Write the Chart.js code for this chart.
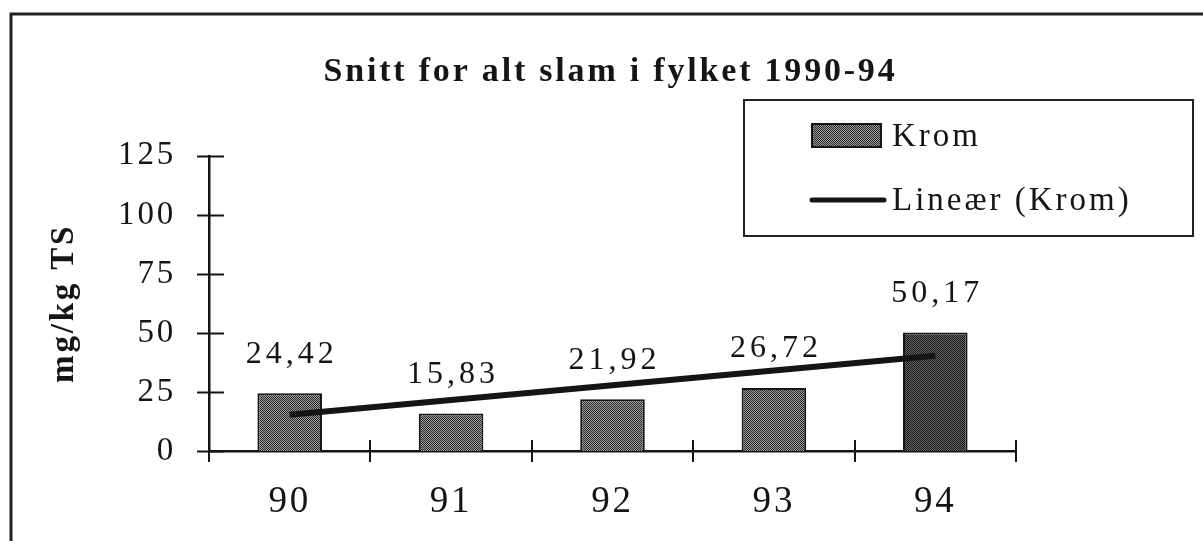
<!DOCTYPE html>
<html><head><meta charset="utf-8">
<style>html,body{margin:0;padding:0;background:#fff;overflow:hidden}canvas{display:block}</style>
<script src="https://cdn.jsdelivr.net/npm/chart.js@4"></script>
</head><body>
<canvas id="c" width="1203" height="541"></canvas>
<script>
const categories = ['90', '91', '92', '93', '94'];
const kromValues = [24.42, 15.83, 21.92, 26.72, 50.17];
const trendValues = [15.33, null, null, null, 40.29];
const seriesLabels = ['Krom', 'Lineær (Krom)'];
const yTickValues = [0, 25, 50, 75, 100, 125];
const chartTitle = 'Snitt for alt slam i fylket 1990-94';
const yTitle = 'mg/kg TS';

const FONT = "'Liberation Serif', 'Times New Roman', serif";
const INK = '#151515';

function makePattern(light, dark) {
  const p = document.createElement('canvas');
  p.width = 2; p.height = 2;
  const g = p.getContext('2d');
  g.fillStyle = light; g.fillRect(0, 0, 2, 2);
  g.fillStyle = dark; g.fillRect(0, 0, 1, 1); g.fillRect(1, 1, 1, 1);
  return g.createPattern(p, 'repeat');
}
const patLight = makePattern('#a0a0a0', '#262626');
const patDark = makePattern('#626262', '#1c1c1c');

const spacing = {
  id: 'spacing',
  beforeUpdate(c) { c.ctx.letterSpacing = '2.8px'; },
  beforeLayout(c) { c.ctx.letterSpacing = '2.8px'; },
  beforeDraw(c) { c.ctx.letterSpacing = '2.8px'; }
};

const frame = {
  id: 'frame',
  beforeDraw(c) {
    const ctx = c.ctx;
    ctx.save();
    ctx.strokeStyle = '#222';
    ctx.lineWidth = 3;
    ctx.beginPath();
    ctx.moveTo(1203, 14); ctx.lineTo(11, 14); ctx.lineTo(11, 541);
    ctx.stroke();
    ctx.restore();
  }
};

const crossTicks = {
  id: 'crossTicks',
  afterDraw(c) {
    const ctx = c.ctx, x = c.scales.x, y = c.scales.y, a = c.chartArea;
    ctx.save();
    ctx.strokeStyle = INK;
    ctx.lineWidth = 2;
    ctx.beginPath();
    yTickValues.forEach(v => {
      const py = Math.round(y.getPixelForValue(v)) + 0.5;
      ctx.moveTo(a.left - 12, py); ctx.lineTo(a.left + 15, py);
    });
    for (let i = 0; i <= categories.length; i++) {
      const px = Math.round(x.getPixelForValue(i - 0.5));
      ctx.moveTo(px, a.bottom - 11); ctx.lineTo(px, a.bottom + 11);
    }
    ctx.stroke();
    ctx.restore();
  }
};

function barIndex(c) { return c.data.datasets.findIndex(d => d.type === 'bar'); }
function lineIndex(c) { return c.data.datasets.findIndex(d => d.type === 'line'); }

const valueLabels = {
  id: 'valueLabels',
  afterDatasetsDraw(c) {
    const ctx = c.ctx;
    const bi = barIndex(c);
    const meta = c.getDatasetMeta(bi);
    const vals = c.data.datasets[bi].data;
    ctx.save();
    ctx.letterSpacing = '4px';
    ctx.font = '32px ' + FONT;
    ctx.fillStyle = INK;
    ctx.textAlign = 'center';
    ctx.textBaseline = 'middle';
    meta.data.forEach((bar, i) => {
      const txt = vals[i].toFixed(2).replace('.', ',');
      ctx.fillText(txt, bar.x + 2, bar.y - 39);
    });
    ctx.restore();
  }
};

const boxLegend = {
  id: 'boxLegend',
  afterDraw(c) {
    const ctx = c.ctx;
    const ds = c.data.datasets;
    const bar = ds[barIndex(c)], line = ds[lineIndex(c)];
    ctx.save();
    ctx.fillStyle = '#fff';
    ctx.fillRect(744, 100, 449, 136);
    ctx.strokeStyle = '#222';
    ctx.lineWidth = 2;
    ctx.strokeRect(744, 100, 449, 136);
    ctx.fillStyle = patLight;
    ctx.fillRect(812, 124, 69, 23);
    ctx.strokeStyle = INK;
    ctx.lineWidth = 2;
    ctx.strokeRect(812, 124, 69, 23);
    ctx.strokeStyle = INK;
    ctx.lineWidth = 5;
    ctx.lineCap = 'round';
    ctx.beginPath(); ctx.moveTo(812, 200); ctx.lineTo(884, 200); ctx.stroke();
    ctx.letterSpacing = '3px';
    ctx.font = '33px ' + FONT;
    ctx.fillStyle = INK;
    ctx.textAlign = 'left';
    ctx.textBaseline = 'middle';
    ctx.fillText(bar.label, 892, 137);
    ctx.fillText(line.label, 892, 201);
    ctx.restore();
  }
};

new Chart(document.getElementById('c'), {
  data: {
    labels: categories,
    datasets: [
      {
        type: 'line',
        label: seriesLabels[1],
        data: trendValues,
        borderColor: INK,
        borderWidth: 6,
        pointRadius: 0,
        spanGaps: true,
        fill: false,
        order: 0
      },
      {
        type: 'bar',
        label: seriesLabels[0],
        data: kromValues,
        backgroundColor: (ctx) => ctx.dataIndex === 4 ? patDark : patLight,
        borderColor: INK,
        borderWidth: 2,
        barPercentage: 0.40,
        categoryPercentage: 1.0,
        order: 1
      }
    ]
  },
  options: {
    responsive: false,
    animation: false,
    layout: { padding: { left: 18, right: 0, top: 0, bottom: 0 } },
    plugins: {
      legend: { display: false },
      tooltip: { enabled: false },
      title: {
        display: true,
        text: chartTitle,
        color: INK,
        font: { family: FONT, size: 34, weight: 'bold' },
        padding: { top: 52, bottom: 63 }
      }
    },
    scales: {
      x: {
        offset: true,
        grid: { display: false, drawTicks: false },
        border: { display: true, color: INK, width: 2.5 },
        ticks: { color: INK, font: { family: FONT, size: 37 }, padding: 29 },
        afterFit(s) { s.height = 90; }
      },
      y: {
        min: 0, max: 125,
        afterBuildTicks(s) { s.ticks = yTickValues.map(v => ({ value: v })); },
        grid: { display: false, drawTicks: false },
        border: { display: true, color: INK, width: 2.5 },
        ticks: { color: INK, font: { family: FONT, size: 33 }, padding: 33 },
        title: {
          display: true,
          text: yTitle,
          color: INK,
          font: { family: FONT, size: 33, weight: 'bold' },
          padding: { top: 27, bottom: 0 }
        },
        afterFit(s) { s.width = 191; }
      },
      yRight: {
        position: 'right',
        display: true,
        grid: { display: false, drawTicks: false },
        border: { display: false },
        ticks: { display: false },
        afterFit(s) { s.width = 187; }
      }
    }
  },
  plugins: [spacing, frame, crossTicks, valueLabels, boxLegend]
});
</script>
</body></html>
